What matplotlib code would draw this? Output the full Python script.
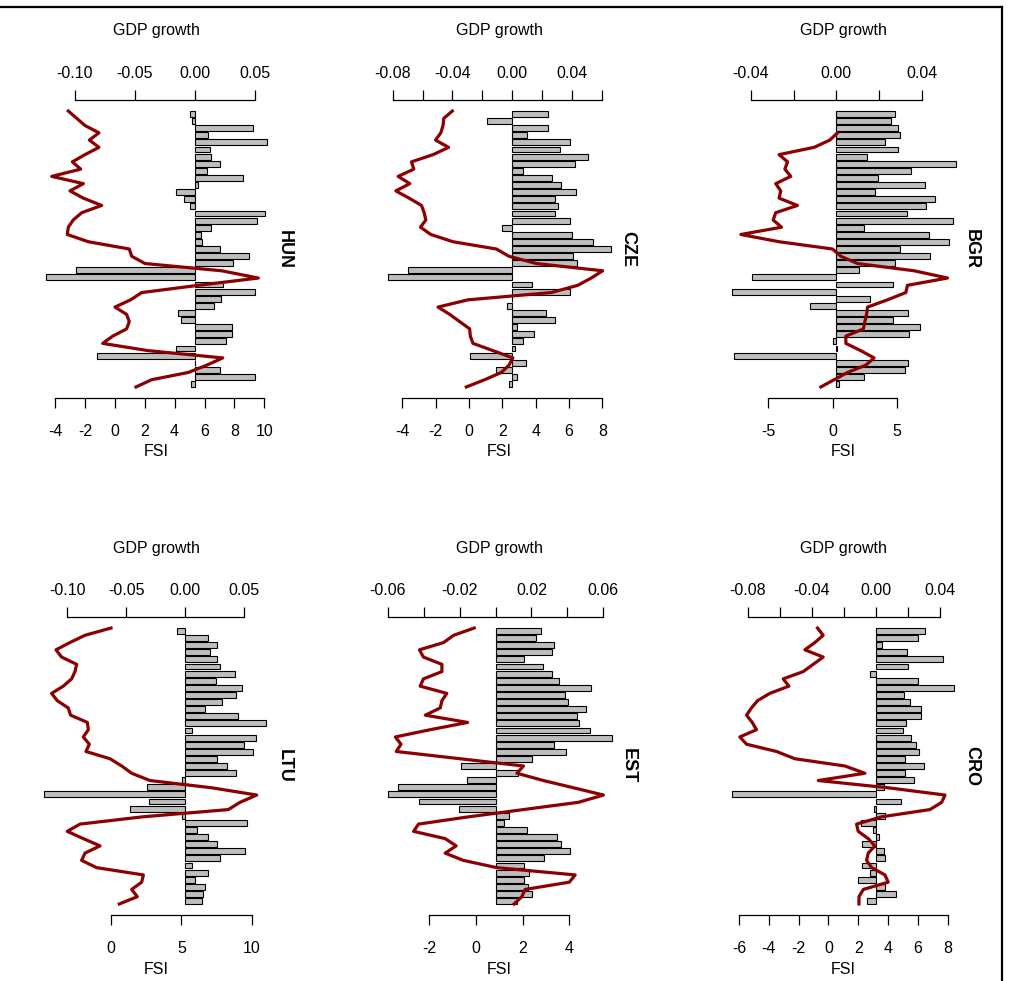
import numpy as np
import matplotlib
matplotlib.use("Agg")
import matplotlib.pyplot as plt
from matplotlib.lines import Line2D

plt.rcParams['font.family'] = ['Liberation Sans', 'DejaVu Sans']

nan = np.nan
countries = ["HUN", "CZE", "BGR", "LTU", "EST", "CRO"]

HUN_gdp = [-0.004, -0.002, 0.049, 0.0116, 0.060, 0.013, 0.014, 0.021, 0.010, 0.040, 0.0025, -0.0155, -0.009,
           -0.004, 0.059, 0.052, 0.014, 0.005, 0.0066, 0.021, 0.045, 0.032, -0.099, -0.124, 0.0235, 0.050, 0.022,
           0.0166, -0.0138, -0.0116, 0.031, 0.031, 0.026, -0.0155, -0.081, 0.0, 0.021, 0.050, -0.003]
HUN_fsi = [-3.11, -2.55, -1.99, -1.06, -1.70, -1.06, -1.99, -2.84, -2.28, -4.22, -2.10, -3.00, -2.10, -0.88,
           -2.21, -2.78, -3.11, -3.18, -1.77, 0.97, 1.13, 2.02, 7.15, 9.60, 5.59, 1.80, 1.06, 0.01, 0.79, 0.97,
           0.79, -0.14, -0.81, 2.24, 7.22, 6.15, 4.92, 2.47, 1.42]

CZE_gdp = [0.024, -0.0167, 0.024, 0.0103, 0.039, 0.032, 0.051, 0.042, 0.0074, 0.027, 0.033, 0.0426, 0.029,
           0.031, 0.029, 0.039, -0.0071, 0.040, 0.054, 0.066, 0.041, 0.0435, -0.070, -0.083, 0.0134, 0.039, 0.0,
           -0.0033, 0.023, 0.029, 0.0033, 0.0145, 0.0074, 0.0022, -0.028, 0.009, -0.0105, 0.0033, -0.0022]
CZE_fsi = [-1.00, -1.51, -1.56, -1.69, -2.01, -1.22, -2.15, -3.45, -3.31, -4.25, -3.55, -4.39, -3.59, -2.85,
           -2.69, -2.59, -2.91, -2.29, -0.96, 1.64, 2.40, 4.04, 8.02, 7.33, 6.53, 4.93, -0.06, -1.86, -1.16, -0.56,
           0.04, 0.08, 0.24, 1.44, 2.63, 2.40, 1.94, 0.94, -0.16]

BGR_gdp = [0.0275, 0.0254, 0.029, 0.030, 0.023, 0.029, 0.0144, 0.056, 0.035, 0.0196, 0.0416, 0.018, 0.046,
           0.042, 0.033, 0.0546, 0.013, 0.0436, 0.053, 0.030, 0.044, 0.0275, 0.0107, -0.0396, 0.0267, -0.049,
           0.0157, -0.0126, 0.0334, 0.0267, 0.039, 0.034, -0.0016, 0.0005, -0.048, 0.0334, 0.032, 0.013, 0.0011]
BGR_fsi = [nan, nan, nan, 0.39, -0.21, -1.43, -4.16, -3.50, -3.71, -3.25, -4.42, -4.03, -4.16, -2.73, -4.42,
           -4.62, -3.97, -7.14, -4.16, 0.0, 0.65, 1.95, 6.36, 8.96, 5.84, 5.71, 4.28, 2.73, 2.65, 2.52, 2.41,
           1.04, 1.04, 2.20, 3.24, 2.59, 1.17, 0.13, -0.91]

LTU_gdp = [-0.0068, 0.0195, 0.027, 0.021, 0.027, 0.030, 0.042, 0.026, 0.048, 0.043, 0.031, 0.0166, 0.045,
           0.069, 0.0062, 0.060, 0.050, 0.0575, 0.027, 0.0355, 0.043, -0.0025, -0.032, -0.120, -0.0305, -0.047,
           -0.0025, 0.0525, 0.010, 0.0195, 0.027, 0.051, 0.030, 0.0062, 0.0195, 0.0087, 0.0166, 0.0152, 0.0144]
LTU_fsi = [0.0, -1.85, -2.92, -3.91, -3.51, -2.44, -2.56, -2.80, -3.39, -4.22, -3.82, -3.04, -2.87, -1.68,
           -1.61, -1.97, -1.54, -1.78, -0.07, 0.76, 1.47, 2.77, 7.16, 10.36, 9.17, 8.34, 2.25, -2.20, -3.11,
           -1.97, -0.78, -1.85, -2.09, -1.02, 2.30, 2.18, 1.47, 1.87, 0.59]

EST_gdp = [0.0256, 0.0223, 0.0325, 0.0317, 0.016, 0.0265, 0.0317, 0.0352, 0.053, 0.0386, 0.0404, 0.0506,
           0.0454, 0.0464, 0.0525, 0.0646, 0.0325, 0.0395, 0.0204, -0.0193, 0.0126, -0.0158, -0.0545, -0.0597,
           -0.0425, -0.0202, 0.0076, 0.0048, 0.0178, 0.0343, 0.0367, 0.0414, 0.027, 0.016, 0.0186, 0.016, 0.018,
           0.0204, 0.0117]
EST_fsi = [-0.07, -0.95, -1.38, -2.41, -2.24, -1.45, -1.45, -2.24, -2.38, -1.24, -1.45, -1.52, -2.16, -0.35,
           -1.95, -3.44, -3.20, -3.40, -0.67, 2.04, 1.76, 2.89, 4.18, 5.46, 4.39, 2.04, -0.31, -2.45, -2.66,
           -1.31, -0.84, -1.31, -0.53, 0.90, 4.25, 4.00, 2.11, 1.97, 1.64]

CRO_gdp = [0.0308, 0.026, 0.0037, 0.0193, 0.0416, 0.020, -0.0037, 0.026, 0.049, 0.0173, 0.0214, 0.028, 0.028,
           0.019, 0.0166, 0.0222, 0.025, 0.027, 0.0183, 0.030, 0.0183, 0.0235, 0.0048, -0.090, 0.0156, -0.001,
           0.0058, -0.0094, -0.0017, 0.002, -0.0087, 0.0048, 0.0058, -0.0087, -0.0035, -0.0114, 0.0058, 0.0125,
           -0.0056]
CRO_fsi = [-0.73, -0.35, -0.91, -1.58, -0.35, -1.02, -1.69, -3.03, -2.65, -3.93, -4.75, -5.16, -5.49, -5.11,
           -4.82, -5.94, -5.49, -3.48, -2.25, 1.11, 2.45, -0.68, 4.01, 7.82, 7.60, 6.81, 3.57, 1.89, 2.00, 2.67,
           3.12, 2.67, 2.56, 2.90, 3.79, 4.01, 2.34, 2.05, 2.05]

gdp_data = [HUN_gdp, CZE_gdp, BGR_gdp, LTU_gdp, EST_gdp, CRO_gdp]
fsi_data = [HUN_fsi, CZE_fsi, BGR_fsi, LTU_fsi, EST_fsi, CRO_fsi]

# tick values and which ones carry labels
gdp_ticks = [[-0.10, -0.05, 0.00, 0.05],
             [-0.08, -0.06, -0.04, -0.02, 0.00, 0.02, 0.04, 0.06],
             [-0.04, -0.02, 0.00, 0.02, 0.04],
             [-0.10, -0.05, 0.00, 0.05],
             [-0.06, -0.04, -0.02, 0.00, 0.02, 0.04, 0.06],
             [-0.08, -0.06, -0.04, -0.02, 0.00, 0.02, 0.04]]
gdp_labels = [["-0.10", "-0.05", "0.00", "0.05"],
              ["-0.08", "", "-0.04", "", "0.00", "", "0.04", ""],
              ["-0.04", "", "0.00", "", "0.04"],
              ["-0.10", "-0.05", "0.00", "0.05"],
              ["-0.06", "", "-0.02", "", "0.02", "", "0.06"],
              ["-0.08", "", "-0.04", "", "0.00", "", "0.04"]]
fsi_ticks = [[-4, -2, 0, 2, 4, 6, 8, 10],
             [-4, -2, 0, 2, 4, 6, 8],
             [-5, 0, 5],
             [0, 5, 10],
             [-2, 0, 2, 4],
             [-6, -4, -2, 0, 2, 4, 6, 8]]

# layout (pixels): plot-region left/right, top/bottom, and axis scales
W, H = 1010, 981
cols = [(35.5, 276.5), (379.0, 620.0), (722.5, 963.5)]
rows = [(100.0, 398.0), (617.0, 915.0)]
# (pixel of zero, pixels per unit) for GDP (top) and FSI (bottom)
gdp_scale = [(194.5, 1200.0), (512.1, 1492.9), (836.4, 2133.75),
             (185.1, 1178.0), (495.5, 1796.7), (875.9, 1602.5)]
fsi_scale = [(114.8, 14.95), (469.0, 16.67), (832.5, 12.84),
             (111.0, 14.07), (475.8, 23.38), (828.4, 14.91)]

fig = plt.figure(figsize=(W / 100, H / 100), dpi=100)

n = 39
bar_pos = 1.2 * np.arange(1, n + 1) - 0.5
bar_ylim = (46.8 + 0.04 * 46.6, 0.2 - 0.04 * 46.6)
line_pos = np.arange(1, n + 1)
line_ylim = (39 + 0.04 * 38, 1 - 0.04 * 38)

FS = 11.5
for i, c in enumerate(countries):
    L, R = cols[i % 3]
    T, B = rows[i // 3]
    rect = [L / W, 1 - B / H, (R - L) / W, (B - T) / H]

    axb = fig.add_axes(rect)
    axb.barh(bar_pos, gdp_data[i], height=1.0, color="#BEBEBE", edgecolor="black", linewidth=0.8)
    z, s = gdp_scale[i]
    axb.set_xlim((L - z) / s, (R - z) / s)
    axb.set_ylim(*bar_ylim)
    for sp in ["left", "right", "bottom"]:
        axb.spines[sp].set_visible(False)
    axb.spines["top"].set_linewidth(0.9)
    axb.spines["top"].set_bounds(min(gdp_ticks[i]), max(gdp_ticks[i]))
    axb.xaxis.set_ticks_position("top")
    axb.set_xticks(gdp_ticks[i])
    axb.set_xticklabels(gdp_labels[i])
    axb.tick_params(axis="x", direction="out", length=7, width=0.9, labelsize=FS, pad=6.5)
    axb.set_yticks([])
    axb.patch.set_visible(False)

    axl = fig.add_axes(rect, facecolor="none")
    axl.plot(fsi_data[i], line_pos, color="#8B0000", linewidth=2.3, solid_joinstyle="round")
    zf, sf = fsi_scale[i]
    axl.set_xlim((L - zf) / sf, (R - zf) / sf)
    axl.set_ylim(*line_ylim)
    for sp in ["left", "right", "top"]:
        axl.spines[sp].set_visible(False)
    axl.spines["bottom"].set_linewidth(0.9)
    axl.spines["bottom"].set_bounds(min(fsi_ticks[i]), max(fsi_ticks[i]))
    axl.set_xticks(fsi_ticks[i])
    axl.set_xticklabels([str(t) for t in fsi_ticks[i]])
    axl.tick_params(axis="x", direction="out", length=7.5, width=0.9, labelsize=FS, pad=11.5)
    axl.set_yticks([])

    cx = (L + R) / 2
    fig.text(cx / W, 1 - (T - 69) / H, "GDP growth", ha="center", va="center", fontsize=FS)
    fig.text(cx / W, 1 - (B + 54) / H, "FSI", ha="center", va="center", fontsize=FS)
    fig.text((R + 8) / W, 1 - ((T + B) / 2) / H, c, ha="center", va="center", rotation=-90,
             fontsize=13, fontweight="bold")

# outer frame lines (top and right)
fig.add_artist(Line2D([0, 1002 / W], [1 - 7 / H, 1 - 7 / H], color="black", linewidth=1.6,
                      transform=fig.transFigure))
fig.add_artist(Line2D([1002 / W, 1002 / W], [0, 1 - 7 / H], color="black", linewidth=1.6,
                      transform=fig.transFigure))

fig.savefig("out.png", dpi=100)
